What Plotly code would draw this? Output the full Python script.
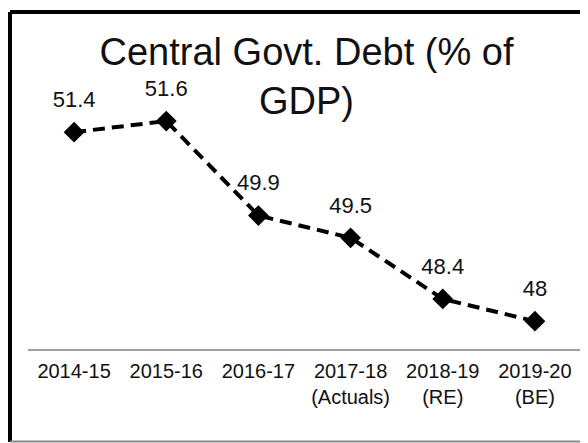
import plotly.graph_objects as go

years = ["2014-15", "2015-16", "2016-17", "2017-18<br>(Actuals)", "2018-19<br>(RE)", "2019-20<br>(BE)"]
debt = [51.4, 51.6, 49.9, 49.5, 48.4, 48]
labels = ["51.4", "51.6", "49.9", "49.5", "48.4", "48"]

# the page body has an 8px margin, so the figure starts at (8, 8) in the window
OFF = 8
W, H = 588, 443
L, R, T, B = 28 - OFF, W - (581 - OFF), 20 - OFF, H - (349 - OFF)
pw, ph = W - L - R, H - T - B


def px_x(x):
    return (x - OFF - L) / pw


def px_y(y):
    return (H - B - (y - OFF)) / ph


font = "Liberation Sans, Arial, sans-serif"

fig = go.Figure()
fig.add_trace(go.Scatter(
    x=years, y=debt, mode="lines+markers",
    line=dict(color="black", width=4, dash="12px,7px"),
    marker=dict(symbol="diamond", size=16, color="black"),
    cliponaxis=False, showlegend=False, hoverinfo="skip",
))
# data labels (invisible bigger marker just to push the text up)
fig.add_trace(go.Scatter(
    x=years, y=debt, mode="markers+text",
    text=labels, textposition="top center",
    textfont=dict(size=22, color="#111", family=font),
    marker=dict(size=30, opacity=0),
    cliponaxis=False, showlegend=False,
))

# outer frame (right side is cut off in the original)
fig.add_shape(type="line", xref="paper", yref="paper",
              x0=px_x(10), x1=px_x(600), y0=px_y(12), y1=px_y(12),
              line=dict(color="black", width=4))
fig.add_shape(type="line", xref="paper", yref="paper",
              x0=px_x(10), x1=px_x(10), y0=px_y(12), y1=px_y(442),
              line=dict(color="black", width=4))
fig.add_shape(type="line", xref="paper", yref="paper",
              x0=px_x(10), x1=px_x(600), y0=px_y(441.5), y1=px_y(441.5),
              line=dict(color="#888", width=2))

fig.update_layout(
    width=W, height=H,
    margin=dict(l=L, r=R, t=T, b=B),
    paper_bgcolor="white", plot_bgcolor="white",
    font=dict(family=font, color="#111"),
    title=dict(text="Central Govt. Debt (% of<br>GDP)",
               font=dict(size=38, color="#111", family=font),
               x=(306.5 - OFF) / W, xanchor="center",
               y=1 - 57 / H, yanchor="top"),
    xaxis=dict(showgrid=False, zeroline=False, showline=True,
               linecolor="#a0a0a0", linewidth=1.5, ticks="",
               ticklabelstandoff=3,
               tickfont=dict(size=20, color="#111", family=font),
               range=[-0.5, 5.5]),
    yaxis=dict(visible=False, range=[47.5, 47.5 + ph / 55.6]),
)

fig.write_html("out.html")
